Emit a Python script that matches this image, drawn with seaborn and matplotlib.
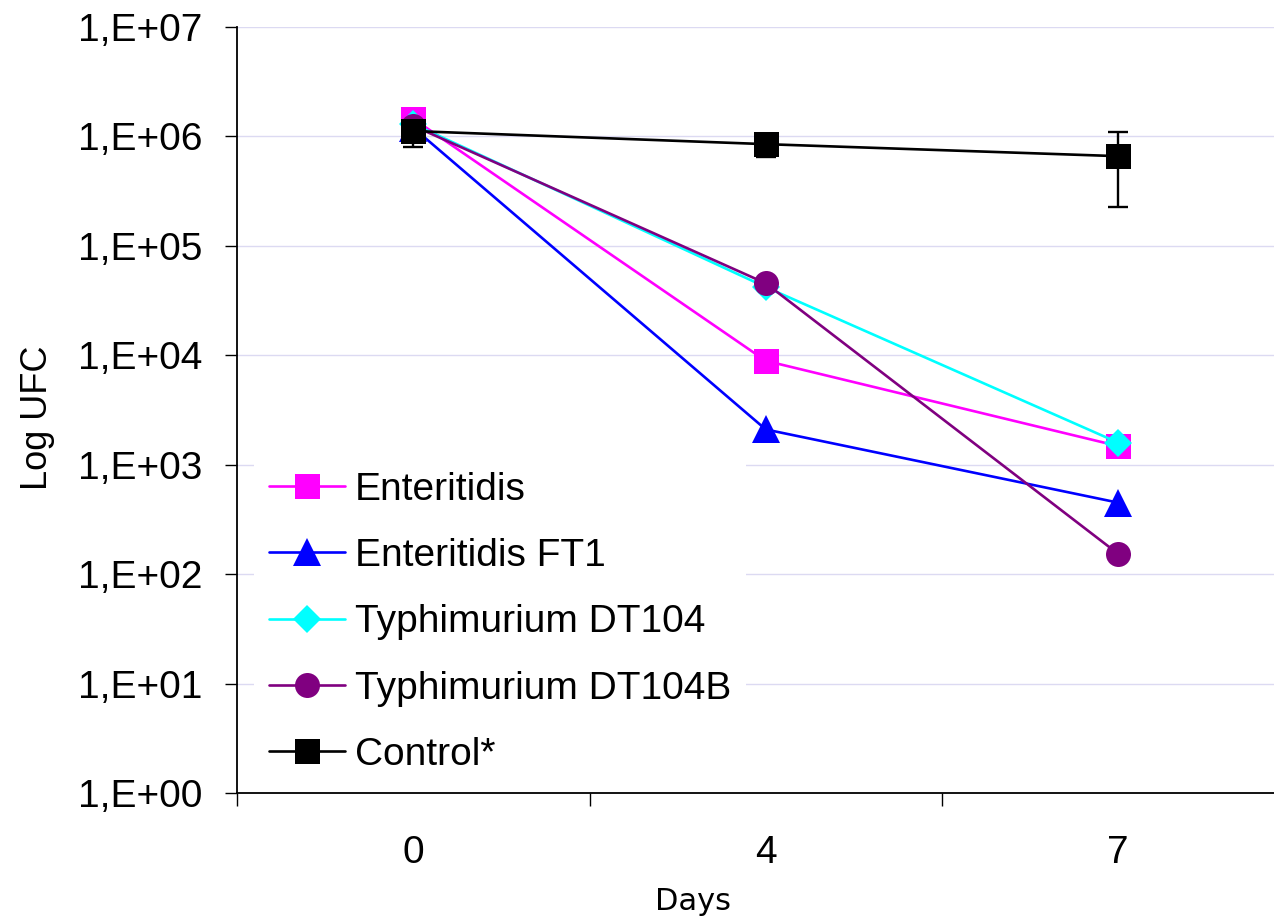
import numpy as np
import pandas as pd
import matplotlib
matplotlib.use("Agg")
import matplotlib.pyplot as plt
from matplotlib.ticker import FixedLocator, FuncFormatter, NullLocator
import seaborn as sns

# ---- data ----
days = ["0", "4", "7"]
strains = ["Enteritidis", "Enteritidis FT1", "Typhimurium DT104",
           "Typhimurium DT104B", "Control*"]
enteritidis = [1.45e6, 8.9e3, 1.48e3]
enteritidis_ft1 = [1.2e6, 2.1e3, 4.5e2]
typhimurium_dt104 = [1.3e6, 4.2e4, 1.59e3]
typhimurium_dt104b = [1.25e6, 4.55e4, 1.53e2]
control = [1.12e6, 8.5e5, 6.6e5]
control_err = [3.2e5, 2.0e5, 4.35e5]

series = [enteritidis, enteritidis_ft1, typhimurium_dt104, typhimurium_dt104b, control]
colors = ["#FF00FF", "#0000FF", "#00FFFF", "#800080", "#000000"]
markers = ["s", "^", "D", "o", "s"]
msizes = [18, 20, 14, 18, 18]

sns.set_theme(style="white")
plt.rcParams["font.family"] = ["Liberation Sans", "DejaVu Sans"]
plt.rcParams["text.color"] = "black"
plt.rcParams["axes.labelcolor"] = "black"
plt.rcParams["xtick.color"] = "black"
plt.rcParams["ytick.color"] = "black"

fig = plt.figure(figsize=(12.74, 9.23), dpi=100)
ax = fig.add_axes([237 / 1274, 130 / 923, 1057.5 / 1274, 766 / 923])

pos = np.arange(len(days))
for name, vals, c, m, ms in zip(strains, series, colors, markers, msizes):
    df = pd.DataFrame({"pos": pos, "ufc": vals})
    sns.lineplot(data=df, x="pos", y="ufc", ax=ax, color=c, marker=m,
                 markersize=ms, markeredgewidth=0, linewidth=1.9,
                 label=name, zorder=3)

ax.errorbar(pos, control, yerr=control_err, fmt="none", ecolor="black",
            elinewidth=1.7, capsize=7.2, capthick=1.7, zorder=2.5)

ax.set_yscale("log")
ax.set_ylim(1, 1e7)
ax.set_xlim(-0.5, 2.5)
ax.yaxis.set_major_locator(FixedLocator(10.0 ** np.arange(0, 8)))
ax.yaxis.set_minor_locator(NullLocator())
ax.yaxis.set_major_formatter(FuncFormatter(lambda v, p: f"1,E+{int(round(np.log10(v))):02d}"))

ax.set_xticks(pos)
ax.set_xticklabels(days)
ax.set_xticks([-0.5, 0.5, 1.5, 2.5], minor=True)
ax.tick_params(axis="x", which="major", length=0, pad=30, labelsize=28, labelcolor="black")
ax.tick_params(axis="x", which="minor", length=9, width=1, direction="out", color="black", bottom=True)
ax.tick_params(axis="y", which="major", length=9, width=1, direction="out", pad=16,
               labelsize=28, color="black", labelcolor="black", left=True)

ax.grid(axis="y", which="major", color="#dcdaf2", linewidth=1)
ax.set_axisbelow(True)
for t in ax.yaxis.get_major_ticks():
    if abs(t.get_loc() - 1e7) < 1:
        t.gridline.set_visible(False)

for s in ["top", "right"]:
    ax.spines[s].set_visible(False)
for s in ["left", "bottom"]:
    ax.spines[s].set_color("black")
    ax.spines[s].set_linewidth(1.3)
    ax.spines[s].set_zorder(6)

ax.set_ylabel("Log UFC", fontsize=26, color="black")
ax.yaxis.label.set_va("center")
ax.yaxis.label.set_ha("center")
ax.yaxis.set_label_coords(-0.189, 0.49)

ax.set_xlabel("Days", fontsize=22, family="DejaVu Sans", color="black")
ax.xaxis.label.set_va("center")
ax.xaxis.set_label_coords(0.431, -0.142)

leg = ax.legend(loc="upper left", bbox_to_anchor=(0.016, 0.440), frameon=True,
                facecolor="white", edgecolor="none", framealpha=1, fancybox=False,
                fontsize=28, handlelength=1.93, handletextpad=0.26,
                labelspacing=0.78, borderpad=0.4, borderaxespad=0)
leg.get_frame().set_linewidth(0)
for txt in leg.get_texts():
    txt.set_color("black")

fig.savefig("out.png", dpi=100)
